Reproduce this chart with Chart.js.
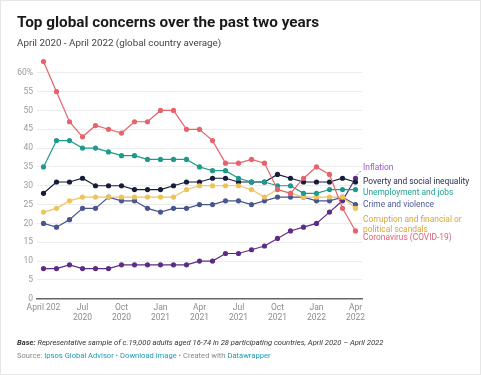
<!DOCTYPE html>
<html>
<head>
<meta charset="utf-8">
<script src="https://cdn.jsdelivr.net/npm/chart.js@4"></script>
<style>
  body { margin: 0; background: #fff; font-family: Roboto, sans-serif; }
  #wrap { position: relative; width: 479px; height: 373px; border: 1px solid #e6e6e6; overflow: hidden; }
  canvas { position: absolute; left: 0; top: 0; }
  .txt { position: absolute; left: 16px; white-space: nowrap; }
  #title { top: 11px; font-size: 15.3px; line-height: 20px; font-weight: 700; color: #1a1a1a; }
  #sub { top: 35px; font-size: 9.8px; line-height: 14px; color: #444; }
  #base { top: 337px; font-size: 7.6px; line-height: 10px; font-style: italic; color: #333; }
  #src { top: 350px; font-size: 7.6px; line-height: 10px; color: #8a8a8a; }
  #src span { color: #1b9ab5; }
</style>
</head>
<body>
<div id="wrap">
  <canvas id="plot-data" width="481" height="375"></canvas>
  <div class="txt" id="title">Top global concerns over the past two years</div>
  <div class="txt" id="sub">April 2020 - April 2022 (global country average)</div>
  <div class="txt" id="base"><b>Base:</b> Representative sample of c.19,000 adults aged 16-74 in 28 participating countries, April 2020 – April 2022</div>
  <div class="txt" id="src">Source: <span>Ipsos Global Advisor</span> • <span>Download image</span> • Created with <span>Datawrapper</span></div>
</div>
<script>
// months Apr 2020 .. Apr 2022
let months = ['Apr 2020','May 2020','Jun 2020','Jul 2020','Aug 2020','Sep 2020','Oct 2020','Nov 2020','Dec 2020',
  'Jan 2021','Feb 2021','Mar 2021','Apr 2021','May 2021','Jun 2021','Jul 2021','Aug 2021','Sep 2021','Oct 2021',
  'Nov 2021','Dec 2021','Jan 2022','Feb 2022','Mar 2022','Apr 2022']

let tickIdx = [0, 3, 6, 9, 12, 15, 18, 21, 24]
let tickText = [['April 202'], ['Jul','2020'], ['Oct','2020'], ['Jan','2021'], ['Apr','2021'],
  ['Jul','2021'], ['Oct','2021'], ['Jan','2022'], ['Apr','2022']]

let coronavirus = [63,55,47,43,46,45,44,47,47,50,50,45,45,42,36,36,37,36,29,28,32,35,33,24,18]
let unemployment = [35,42,42,40,40,39,38,38,37,37,37,37,35,34,34,32,31,31,30,30,28,28,29,29,29]
let poverty = [28,31,31,32,30,30,30,29,29,29,30,31,31,32,32,31,31,31,33,32,31,31,31,32,31]
let corruption = [23,24,26,27,27,27,27,27,27,27,27,29,30,30,30,30,29,27,29,28,27,27,27,27,24]
let crime = [20,19,21,24,24,27,26,26,24,23,24,24,25,25,26,26,25,26,27,27,27,26,26,27,25]
let inflation = [8,8,9,8,8,8,9,9,9,9,9,9,10,10,12,12,13,14,16,18,19,20,23,26,32]

const series = [
    { name: ['Coronavirus (COVID-19)'], data: coronavirus, line: '#e6636b', text: '#e2607a', nudge: 7 },
    { name: ['Unemployment and jobs'], data: unemployment, line: '#1d9a8b', text: '#22a291', nudge: 3 },
    { name: ['Corruption and financial or', 'political scandals'], data: corruption, line: '#eec35c', text: '#d4a838', nudge: 12 },
    { name: ['Crime and violence'], data: crime, line: '#48558f', text: '#4c5b9c', nudge: 0 },
    { name: ['Poverty and social inequality'], data: poverty, line: '#151d3b', text: '#26304f', nudge: 0 },
    { name: ['Inflation'], data: inflation, line: '#5e2c84', text: '#9d58c4', nudge: -10, dashed: true },
]

// labels at the end of each line
const endLabels = {
    id: 'endLabels',
    afterDatasetsDraw(chart) {
        const ctx = chart.ctx
        const ys = chart.scales.y
        const xs = chart.scales.x
        const lastX = xs.getPixelForValue(months.length - 1)
        ctx.save()
        ctx.font = '8.4px Roboto'
        ctx.textBaseline = 'middle'
        ctx.textAlign = 'left'
        series.forEach(s => {
            const lastY = ys.getPixelForValue(s.data[s.data.length - 1])
            const ly = lastY + s.nudge
            if (s.dashed) {
                ctx.strokeStyle = s.text
                ctx.lineWidth = 1
                ctx.setLineDash([2, 2])
                ctx.beginPath()
                ctx.moveTo(lastX + 1, lastY - 3)
                ctx.lineTo(lastX + 6, ly + 2)
                ctx.stroke()
                ctx.setLineDash([])
            }
            ctx.fillStyle = s.text
            s.name.forEach((t, k) => ctx.fillText(t, 362, ly + k * 10))
        })
        ctx.restore()
    }
}

var ctx = document.getElementById('plot-data').getContext('2d')
var graph = new Chart(ctx, {
    type: 'line',
    data: {
        labels: months,
        datasets: series.map(s => ({
            label: s.name.join(' '),
            data: s.data,
            borderColor: s.line,
            backgroundColor: s.line,
            borderWidth: 1.2,
            pointRadius: 2.6,
            pointBorderWidth: 0,
            tension: 0
        }))
    },
    options: {
        responsive: false,
        animation: false,
        devicePixelRatio: 1,
        layout: { padding: { left: 0, right: 120, top: 53, bottom: 47.3 } },
        plugins: { legend: false, tooltip: { enabled: false } },
        scales: {
            x: {
                type: 'category',
                offset: true,
                grid: { display: false, drawTicks: false },
                border: { color: '#666', width: 1.5 },
                ticks: {
                    autoSkip: false,
                    maxRotation: 0,
                    padding: 4,
                    color: '#8c8c8c',
                    font: { family: 'Roboto', size: 8.5, lineHeight: 1.2 },
                    callback: function(value, index) {
                        const k = tickIdx.indexOf(index)
                        return k < 0 ? null : tickText[k]
                    }
                },
                afterFit(scale) { scale.height = 30 }
            },
            y: {
                min: 0,
                max: 65,
                border: { display: false },
                grid: {
                    drawTicks: false,
                    color: c => c.tick && c.tick.value === 0 ? 'rgba(0,0,0,0)' : '#ececec',
                    lineWidth: 1
                },
                ticks: {
                    stepSize: 5,
                    padding: 4,
                    color: '#9a9a9a',
                    font: { family: 'Roboto', size: 8.5 },
                    callback: v => v === 60 ? '60%' : v
                },
                afterBuildTicks(axis) { axis.ticks = axis.ticks.filter(t => t.value <= 60) },
                afterFit(scale) { scale.width = 36 }
            }
        }
    },
    plugins: [endLabels]
})
</script>
</body>
</html>
